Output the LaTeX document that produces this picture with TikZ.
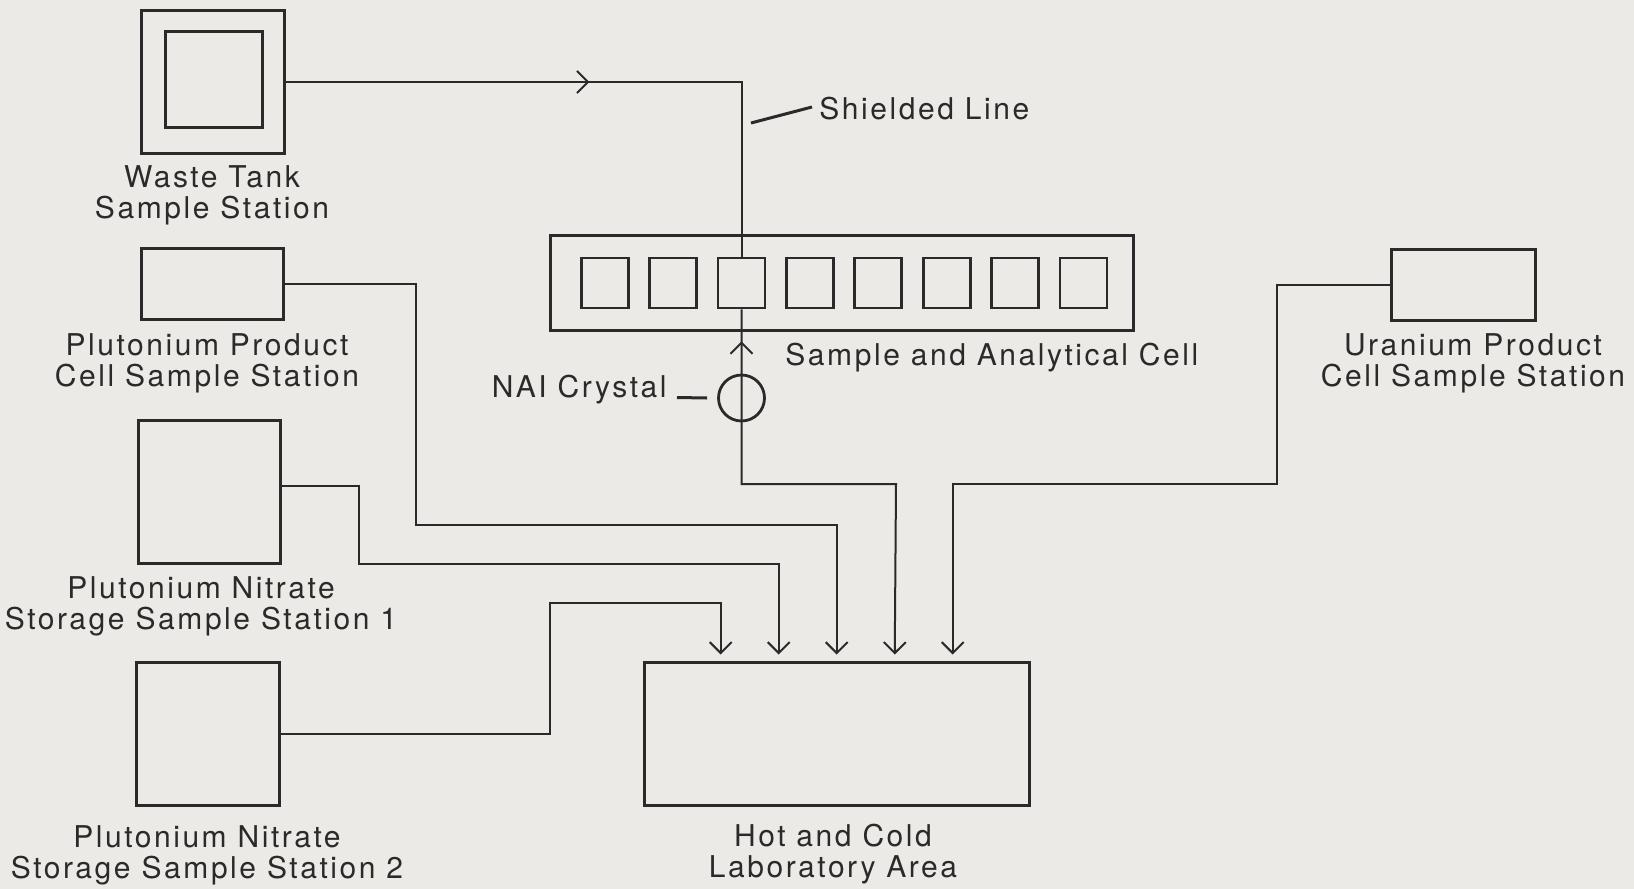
\documentclass[tikz,border=0pt]{standalone}
\usepackage{fontspec}
\newfontfamily\lblfont{TeX Gyre Heros}[LetterSpace=8.5]
\usetikzlibrary{arrows.meta,calc,decorations.markings}
\definecolor{paper}{RGB}{236,234,230}
\definecolor{ink}{RGB}{42,42,42}
\tikzset{
  station/.style={draw=ink, line width=1.5pt, inner sep=0pt},
  cellbox/.style={draw=ink, line width=1.4pt, inner sep=0pt, minimum width=23.5pt, minimum height=25pt},
  conn/.style={draw=ink, line width=1pt},
  ptr/.style={draw=ink, line width=1.5pt},
  lbl/.style={text=ink, inner sep=0pt, align=center, anchor=base, font=\lblfont\fontsize{15}{15.5}\selectfont},
  >={Straight Barb[length=5.5pt,width=11pt]}
}
\begin{document}
\begin{tikzpicture}[x=0.5pt, y=-0.5pt]
\fill[paper] (0,0) rectangle (1634,889);
\node[station, minimum width=71.3pt, minimum height=71.2pt] (waste) at (213,82) {};
\node[station, minimum width=48.5pt, minimum height=47.8pt] (wasteinner) at (214.2,79.5) {};
\node[station, minimum width=70.9pt, minimum height=35.5pt] (pup) at (212.5,283.5) {};
\node[station, minimum width=71pt, minimum height=71.9pt] (pun1) at (209.8,492) {};
\node[station, minimum width=71.7pt, minimum height=71.5pt] (pun2) at (207.7,734) {};
\node[station, minimum width=72pt, minimum height=35.5pt] (ur) at (1463,284.8) {};
\node[station, minimum width=291.5pt, minimum height=47.8pt] (cell) at (841.5,283) {};
\node[station, minimum width=192.8pt, minimum height=71.4pt] (lab) at (837,734) {};
\node[cellbox] (cbox1) at (604.7,283) {};
\node[cellbox] (cbox2) at (673.1,283) {};
\node[cellbox] (cbox3) at (741.5,283) {};
\node[cellbox] (cbox4) at (809.9,283) {};
\node[cellbox] (cbox5) at (878.3,283) {};
\node[cellbox] (cbox6) at (946.7,283) {};
\node[cellbox] (cbox7) at (1015.1,283) {};
\node[cellbox] (cbox8) at (1083.5,283) {};
\node[draw=ink, line width=1.4pt, circle, inner sep=0pt, minimum size=23pt] (nai) at (741.5,398) {};
\node[lbl] (wastelbl) at (212,218.5) {Waste Tank\\Sample Station};
\node[lbl] (puplbl) at (207,386.5) {Plutonium Product\\Cell Sample Station};
\node[lbl] (pun1lbl) at (201,629.5) {Plutonium Nitrate\\Storage Sample Station 1};
\node[lbl] (pun2lbl) at (207,878) {Plutonium Nitrate\\Storage Sample Station 2};
\node[lbl] (urlbl) at (1473,386.5) {Uranium Product\\Cell Sample Station};
\node[lbl] (lablbl) at (833,877.5) {Hot and Cold\\Laboratory Area};
\node[lbl, anchor=base west] (celllbl) at (785,365.5) {Sample and Analytical Cell};
\node[lbl, anchor=base east] (nailbl) at (667,397.5) {NAI Crystal};
\node[lbl, anchor=base west] (shieldlbl) at (819,119) {Shielded Line};
\coordinate (shieldtip) at (751,123);
\draw[conn, postaction={decorate}, decoration={markings, mark=at position 151.8pt with {\arrow{>}}}] (waste.east) -| (cbox3.north);
\draw[conn, ->, shorten >=3.3pt, postaction={decorate}, decoration={markings, mark=at position 16pt with {\arrowreversed{>}}}] (cbox3.south) -- (nai.south) |- (896,484) -- ($(lab.north west)+(252,0)$);
\draw[conn, ->, shorten >=3.3pt] (pup.east) -| (416,525) -| ($(lab.north west)+(194,0)$);
\draw[conn, ->, shorten >=3.3pt] ([yshift=3pt]pun1.east) -| (359,564) -| ($(lab.north west)+(136,0)$);
\draw[conn, ->, shorten >=3.3pt] (pun2.east) -| (550,603) -| ($(lab.north west)+(78,0)$);
\draw[conn, ->, shorten >=3.3pt] (ur.west) -| (1277,484) -| ($(lab.north west)+(310,0)$);
\draw[ptr] ([xshift=5pt]nailbl.base east) -- ([xshift=-5pt]nai.west);
\draw[ptr] (shieldtip) -- ($(shieldlbl.base west)+(-7,-12)$);
\end{tikzpicture}
\end{document}
